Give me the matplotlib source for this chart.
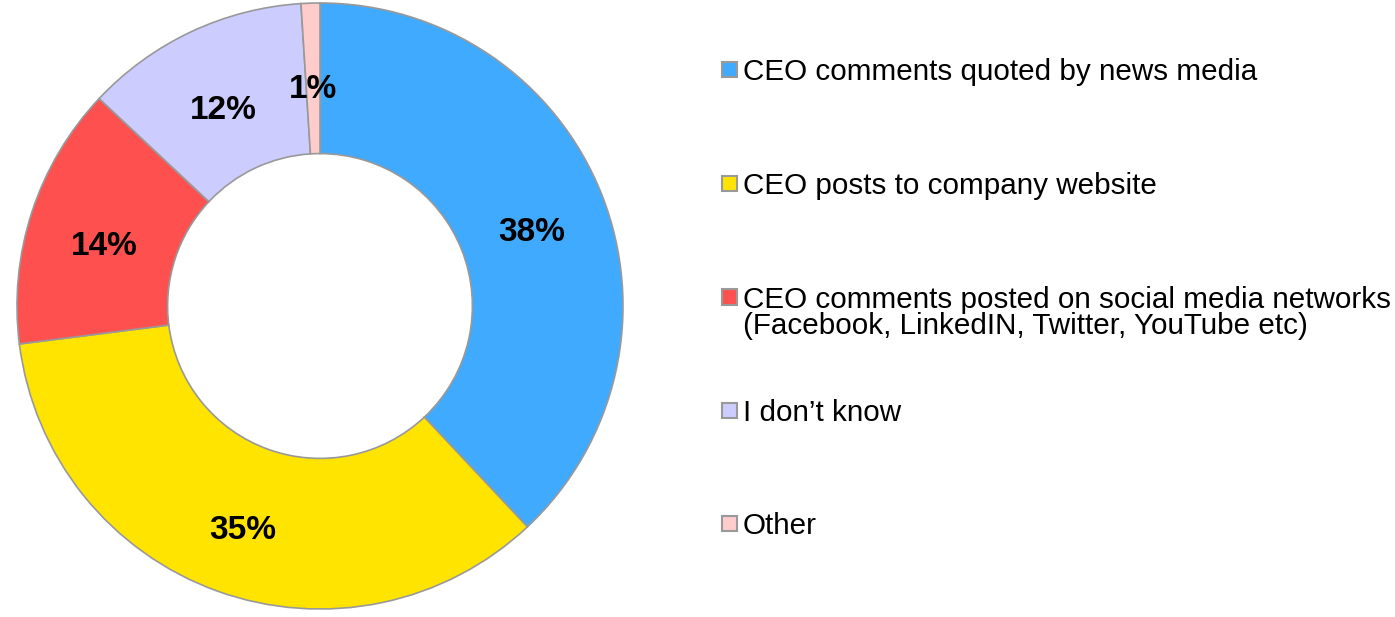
import matplotlib
matplotlib.use("Agg")
import matplotlib.pyplot as plt
from matplotlib.patches import Rectangle

categories = [
    "CEO comments quoted by news media",
    "CEO posts to company website",
    "CEO comments posted on social media networks\n(Facebook, LinkedIN, Twitter, YouTube etc)",
    "I don\u2019t know",
    "Other",
]
shares = [38, 35, 14, 12, 1]
colors = ["#40AAFF", "#FFE400", "#FF5050", "#CCCCFF", "#FFCCCC"]
edge = "#999999"

plt.rcParams["font.family"] = ["Liberation Sans", "DejaVu Sans"]

W, H = 1395, 617
fig = plt.figure(figsize=(W / 100, H / 100), dpi=100)

# donut placed by pixel geometry: centre (320, 306), outer radius 303
cx, cy, R = 320, 306, 303
ax = fig.add_axes([(cx - R) / W, (H - cy - R) / H, 2 * R / W, 2 * R / H])
wedges, texts, autotexts = ax.pie(
    shares,
    colors=colors,
    startangle=90,
    counterclock=False,
    radius=1.0,
    wedgeprops=dict(width=0.497, edgecolor=edge, linewidth=1.2),
    autopct=lambda p: f"{p:.0f}%",
    pctdistance=0.75,
    textprops=dict(fontsize=24, fontweight="bold", color="black"),
)
# nudge percentage labels slightly downward
for t in autotexts:
    x, y = t.get_position()
    t.set_position((x, y - 0.035))
ax.set_xlim(-1.0, 1.0)
ax.set_ylim(-1.0, 1.0)
ax.set_aspect("equal")
ax.axis("off")

# legend drawn as coloured squares with labels
row_y = [69.5, 183, 297, 410, 523.5]
sq = 15
fs = 21.3
cap = fs * 100 / 72 * 0.716
pitch = 26.5
for label, c, y in zip(categories, colors, row_y):
    fig.patches.append(Rectangle((722 / W, (H - y - sq / 2) / H), sq / W, sq / H,
                                 transform=fig.transFigure, facecolor=c,
                                 edgecolor=edge, linewidth=1.5))
    for i, line in enumerate(label.split("\n")):
        base = y + cap / 2 + i * pitch
        fig.text(743 / W, (H - base) / H, line, fontsize=fs, va="baseline",
                 ha="left", color="black")

fig.savefig("out.png", dpi=100)
